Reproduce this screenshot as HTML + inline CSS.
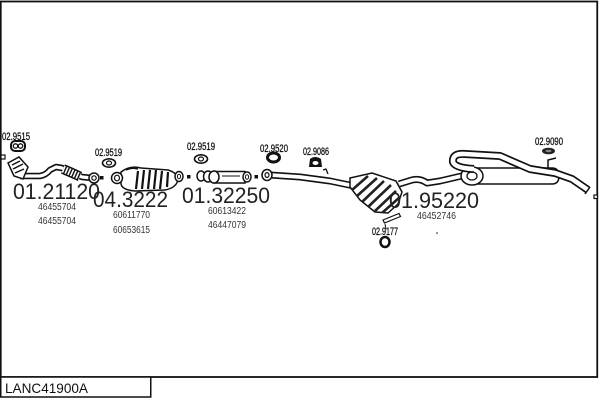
<!DOCTYPE html>
<html><head><meta charset="utf-8"><style>
html,body{margin:0;padding:0;background:#fff;}
svg{display:block;}
text{font-family:"Liberation Sans",sans-serif;}
</style></head><body>
<svg width="600" height="400" viewBox="0 0 600 400" xmlns="http://www.w3.org/2000/svg">
<rect x="0" y="0" width="600" height="400" fill="#fff"/>
<!-- frame -->
<rect x="0.75" y="1.5" width="596.5" height="375.5" fill="none" stroke="#111" stroke-width="1.8"/>
<rect x="0.75" y="377" width="150" height="20" fill="#fff" stroke="#111" stroke-width="1.5"/>
<text x="5" y="393" font-size="14" textLength="83" lengthAdjust="spacingAndGlyphs" fill="#111">LANC41900A</text>

<!-- small labels -->
<g font-size="11" fill="#111" stroke="#111" stroke-width="0.3">
<text x="2" y="140" textLength="28" lengthAdjust="spacingAndGlyphs">02.9515</text>
<text x="95" y="156" textLength="27" lengthAdjust="spacingAndGlyphs">02.9519</text>
<text x="187" y="150" textLength="28" lengthAdjust="spacingAndGlyphs">02.9519</text>
<text x="260" y="152" textLength="28" lengthAdjust="spacingAndGlyphs">02.9520</text>
<text x="303" y="155" textLength="26" lengthAdjust="spacingAndGlyphs">02.9086</text>
<text x="372" y="235" textLength="26" lengthAdjust="spacingAndGlyphs">02.9177</text>
<text x="535" y="145" textLength="28" lengthAdjust="spacingAndGlyphs">02.9090</text>
</g>
<g font-size="10" fill="#333">
<text x="38" y="210" textLength="38" lengthAdjust="spacingAndGlyphs">46455704</text>
<text x="38" y="224" textLength="38" lengthAdjust="spacingAndGlyphs">46455704</text>
<text x="113" y="218" textLength="37" lengthAdjust="spacingAndGlyphs">60611770</text>
<text x="113" y="233" textLength="37" lengthAdjust="spacingAndGlyphs">60653615</text>
<text x="208" y="214" textLength="38" lengthAdjust="spacingAndGlyphs">60613422</text>
<text x="208" y="228" textLength="38" lengthAdjust="spacingAndGlyphs">46447079</text>
<text x="417" y="219" textLength="39" lengthAdjust="spacingAndGlyphs">46452746</text>
</g>

<!-- gaskets -->
<rect x="11" y="141" width="14" height="10" rx="4" fill="#fff" stroke="#111" stroke-width="2"/>
<circle cx="15.5" cy="146" r="2.2" fill="none" stroke="#111" stroke-width="1.3"/>
<circle cx="20.5" cy="146" r="2.2" fill="none" stroke="#111" stroke-width="1.3"/>

<ellipse cx="109" cy="163" rx="6.5" ry="4.2" fill="#fff" stroke="#111" stroke-width="1.6"/>
<ellipse cx="109" cy="163" rx="2.5" ry="2" fill="none" stroke="#111" stroke-width="1.2"/>
<ellipse cx="201" cy="159" rx="6.5" ry="4.2" fill="#fff" stroke="#111" stroke-width="1.6"/>
<ellipse cx="201" cy="159" rx="2.5" ry="2" fill="none" stroke="#111" stroke-width="1.2"/>

<ellipse cx="273.5" cy="157.5" rx="6" ry="4.5" fill="#fff" stroke="#111" stroke-width="3"/>
<path d="M309 167 L310 159 Q315 155 321 159 L322 167 Z" fill="#111"/>
<ellipse cx="315.5" cy="163" rx="3" ry="2" fill="#fff"/>
<ellipse cx="548.5" cy="151" rx="6.5" ry="3.3" fill="#222"/>
<ellipse cx="548.5" cy="151" rx="3" ry="1.2" fill="#888"/>
<ellipse cx="385" cy="242" rx="4.5" ry="5" fill="#fff" stroke="#111" stroke-width="2.5"/>
<path d="M383 220 L399 213.5 L400.5 216.5 L384.5 223 Z" fill="#fff" stroke="#111" stroke-width="1.2"/>
<line x1="385" y1="224" x2="386" y2="229" stroke="#111" stroke-width="1"/>
<circle cx="437" cy="233" r="0.8" fill="#111"/>

<!-- left pipe 01.21120 -->
<rect x="1" y="155" width="4" height="4" fill="#fff" stroke="#111" stroke-width="1.2"/>
<g fill="none" stroke-linejoin="round" stroke-linecap="butt">
<path d="M20 176 L40 176 Q46 175 50 170 L56 167 L62 168 L70 172 L82 177 L92 178" stroke="#111" stroke-width="6.5"/>
<path d="M20 176 L40 176 Q46 175 50 170 L56 167 L62 168 L70 172 L82 177 L92 178" stroke="#fff" stroke-width="3.2"/>
<path d="M63 169 L70 172 L80 176.5" stroke="#111" stroke-width="10"/>
<path d="M63 169 L70 172 L80 176.5" stroke="#fff" stroke-width="7" stroke-dasharray="1.6 1.4"/>
</g>
<path d="M8 163 L19 157 L28 167 L23 179 L14 176 Z" fill="#fff" stroke="#111" stroke-width="1.5"/>
<path d="M12 165 L20 161 M13 169 L23 164 M15 173 L24 169" stroke="#111" stroke-width="1.5"/>
<circle cx="94" cy="178" r="5" fill="#fff" stroke="#111" stroke-width="1.5"/>
<circle cx="94" cy="178" r="2.2" fill="none" stroke="#111" stroke-width="1.2"/>
<rect x="100" y="176" width="3.5" height="3.5" fill="#111"/>

<!-- cat 04.3222 -->
<path d="M121 172 Q130 165 141 168 L168 170 Q178 173 178 180 Q176 188 165 190 L135 191 Q122 190 121 184 Z" fill="#fff" stroke="#111" stroke-width="1.5"/>
<g stroke="#111" stroke-width="2.2">
<path d="M138 171 L136 189 M144 170 L142 189 M150 170 L148 189 M156 170 L154 189 M162 171 L160 189 M168 172 L167 187"/>
</g>
<path d="M126 170 Q132 167 138 169" stroke="#111" stroke-width="1.5" fill="none"/>
<ellipse cx="117" cy="178" rx="5.5" ry="5.5" fill="#fff" stroke="#111" stroke-width="1.5"/>
<ellipse cx="117" cy="178" rx="2.5" ry="2.8" fill="none" stroke="#111" stroke-width="1.2"/>
<ellipse cx="179" cy="176.5" rx="4" ry="5" fill="#fff" stroke="#111" stroke-width="1.5"/>
<ellipse cx="179" cy="176.5" rx="1.6" ry="2.2" fill="none" stroke="#111" stroke-width="1"/>
<rect x="187" y="175" width="3.5" height="3.5" fill="#111"/>

<!-- 01.32250 -->
<rect x="214" y="171.5" width="31" height="11.5" fill="#fff" stroke="#111" stroke-width="1.5"/>
<line x1="222" y1="176" x2="240" y2="176" stroke="#111" stroke-width="1"/>
<ellipse cx="201" cy="176" rx="4" ry="5" fill="#fff" stroke="#111" stroke-width="1.5"/>
<ellipse cx="208" cy="176.5" rx="4.5" ry="5.5" fill="#fff" stroke="#111" stroke-width="1.5"/>
<ellipse cx="214" cy="177" rx="5" ry="6" fill="#fff" stroke="#111" stroke-width="1.5"/>
<ellipse cx="247" cy="177" rx="4" ry="5" fill="#fff" stroke="#111" stroke-width="1.5"/>
<ellipse cx="247" cy="177" rx="1.6" ry="2.2" fill="none" stroke="#111" stroke-width="1"/>
<rect x="254.5" y="175" width="3.5" height="3.5" fill="#111"/>

<!-- pipe to middle muffler -->
<g fill="none" stroke-linejoin="round">
<path d="M270 175 L300 177 L330 181 L354 186" stroke="#111" stroke-width="7"/>
<path d="M270 175 L300 177 L330 181 L354 186" stroke="#fff" stroke-width="3.8"/>
<path d="M323 170 L326 169 L328 174" stroke="#111" stroke-width="1.3"/>
</g>
<ellipse cx="267" cy="175" rx="5" ry="5.5" fill="#fff" stroke="#111" stroke-width="1.5"/>
<ellipse cx="267" cy="175" rx="2" ry="2.4" fill="none" stroke="#111" stroke-width="1.2"/>

<!-- middle muffler -->
<defs><clipPath id="mm"><path d="M350 178 L372 173 L396 181 L402 192 L398 204 L388 213 L375 212 L360 200 L350 187 Z"/></clipPath></defs>
<path d="M350 178 L372 173 L396 181 L402 192 L398 204 L388 213 L375 212 L360 200 L350 187 Z" fill="#fff" stroke="#111" stroke-width="1.5"/>
<g clip-path="url(#mm)" stroke="#222" stroke-width="2.6">
<path d="M352 190 L368 176 M357 196 L377 178 M362 202 L384 181 M368 207 L391 185 M375 211 L396 191 M382 213 L400 197"/>
</g>

<!-- exit pipe to rear -->
<g fill="none" stroke-linejoin="round">
<path d="M399 184 L412 180 Q420 178 427 183 L440 181 L470 174" stroke="#111" stroke-width="7"/>
<path d="M399 184 L412 180 Q420 178 427 183 L440 181 L470 174" stroke="#fff" stroke-width="3.8"/>
</g>
<text x="389" y="208" font-size="22" textLength="90" lengthAdjust="spacingAndGlyphs" fill="#222">01.95220</text>

<!-- rear muffler -->
<path d="M472 168 L552 168 Q559 168 559 176 Q559 184 552 184 L472 184 Z" fill="#fff" stroke="#111" stroke-width="1.5"/>
<ellipse cx="472" cy="176" rx="11" ry="9" fill="#fff" stroke="#111" stroke-width="1.5"/>
<ellipse cx="472" cy="176" rx="5" ry="4" fill="none" stroke="#111" stroke-width="1.3"/>
<g fill="none" stroke-linejoin="round">
<path d="M474 169 Q455 168 453 162 Q452 153 465 154 L500 156 L530 169 L555 173 L572 179 L588 190" stroke="#111" stroke-width="8"/>
<path d="M474 169 Q455 168 453 162 Q452 153 465 154 L500 156 L530 169 L555 173 L572 179 L588 190" stroke="#fff" stroke-width="4.6"/>
<path d="M548 168 L548 160 L556 158" stroke="#111" stroke-width="1.5"/>
</g>
<path d="M585 194 L590 187" stroke="#111" stroke-width="1.5"/>
<rect x="594" y="195" width="3.5" height="3.5" fill="#fff" stroke="#111" stroke-width="1.2"/>

<!-- large labels -->
<g font-size="22" fill="#222">
<text x="13" y="199" textLength="87" lengthAdjust="spacingAndGlyphs">01.21120</text>
<text x="93" y="207" textLength="75" lengthAdjust="spacingAndGlyphs">04.3222</text>
<text x="182" y="203" textLength="88" lengthAdjust="spacingAndGlyphs">01.32250</text>
</g>
</svg>
</body></html>
